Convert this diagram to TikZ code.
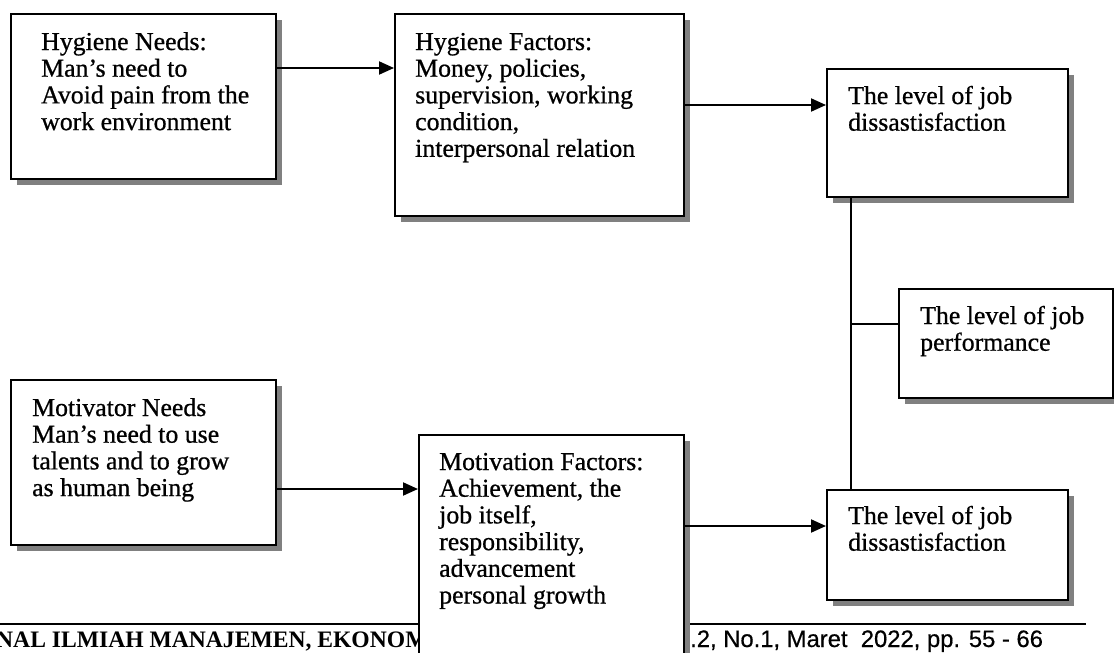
\documentclass[tikz,border=0pt]{standalone}
\usepackage{fontspec}
\setmainfont{Liberation Serif}[FakeBold=0.7]
\newfontfamily\footsans{Liberation Sans}[FakeBold=0.5]
\newfontfamily\footserif{Liberation Serif Bold}
\usetikzlibrary{shadows,calc,arrows.meta}
\newcommand\bodyfs{\fontsize{25.8}{26.7}\selectfont}
\newcommand\boxtext[1]{\parbox[t]{300pt}{\bodyfs #1}}
\tikzset{
  box/.style={draw, line width=2pt, fill=white, anchor=north west, inner sep=0pt,
    drop shadow={shadow xshift=6pt, shadow yshift=-6pt, fill=black!50, opacity=1}},
  txt/.style={anchor=base west, inner sep=0pt},
  arr/.style={line width=2pt, -{Triangle[length=15pt,width=13pt]}},
  link/.style={line width=1.5pt},
  rule/.style={line width=2.2pt}
}
\begin{document}
\begin{tikzpicture}[x=1pt,y=-1pt]
\useasboundingbox (0,0) rectangle (1114,653);
\clip (0,0) rectangle (1114,653);
% footer
\coordinate (r0) at (0,624);
\coordinate (r1) at (1086,624);
\draw[rule] (r0) -- (r1);
\node[txt, font=\footserif\fontsize{23.6}{25}\selectfont] (f1) at (-4,647) {NAL ILMIAH MANAJEMEN, EKONOM};
\node[txt, font=\footsans\fontsize{23.8}{26}\selectfont] (f2) at (690,647) {.2, No.1, Maret\ \ 2022, pp. 55 - 66};
% boxes
\node[box, minimum width=265pt, minimum height=165pt] (b1) at (10,13) {};
\node[box, minimum width=289pt, minimum height=202pt] (b2) at (394,13) {};
\node[box, minimum width=241pt, minimum height=128pt] (b3) at (826,68) {};
\node[box, minimum width=214pt, minimum height=109pt] (b4) at (898,288) {};
\node[box, minimum width=265pt, minimum height=165pt] (b5) at (10,379) {};
\node[box, minimum width=265pt, minimum height=240pt] (b6) at (418,434) {};
\node[box, minimum width=241pt, minimum height=110pt] (b7) at (826,489) {};
% texts
\node[txt] (t1) at ($(b1.north west)+(31,37)$) {\boxtext{Hygiene Needs:\\Man’s need to\\Avoid pain from the\\work environment}};
\node[txt] (t2) at ($(b2.north west)+(21,37)$) {\boxtext{Hygiene Factors:\\Money, policies,\\supervision, working\\condition,\\interpersonal relation}};
\node[txt] (t3) at ($(b3.north west)+(22,36)$) {\boxtext{The level of job\\dissastisfaction}};
\node[txt] (t4) at ($(b4.north west)+(22,36)$) {\boxtext{The level of job\\performance}};
\node[txt] (t5) at ($(b5.north west)+(22,37)$) {\boxtext{Motivator Needs\\Man’s need to use\\talents and to grow\\as human being}};
\node[txt] (t6) at ($(b6.north west)+(21,36)$) {\boxtext{Motivation Factors:\\Achievement, the\\job itself,\\responsibility,\\advancement\\personal growth}};
\node[txt] (t7) at ($(b7.north west)+(22,35)$) {\boxtext{The level of job\\dissastisfaction}};
% connectors
\coordinate (y1) at (0,68);
\coordinate (y2) at (0,105);
\coordinate (y3) at (0,489);
\coordinate (y4) at (0,526);
\draw[arr] (b1.east |- y1) -- (b2.west |- y1);
\draw[arr] (b2.east |- y2) -- (b3.west |- y2);
\draw[arr] (b5.east |- y3) -- (b6.west |- y3);
\draw[arr] (b6.east |- y4) -- (b7.west |- y4);
\coordinate (vtop) at ($(b3.south west)+(25,0)$);
\coordinate (vbot) at ($(b7.north west)+(25,0)$);
\coordinate (pin) at ($(b4.north west)+(0,36)$);
\draw[link] (vtop) -- (vbot);
\draw[link] (vtop |- pin) -- (pin);
\end{tikzpicture}
\end{document}
